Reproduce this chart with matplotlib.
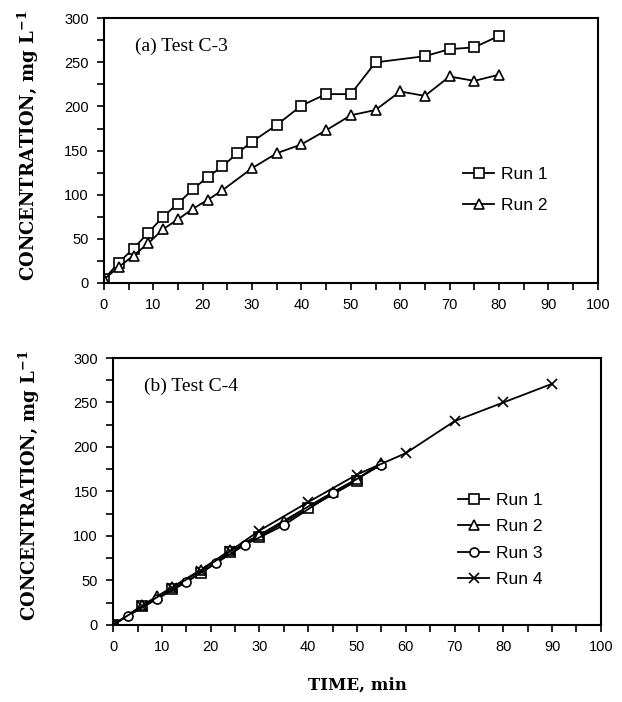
import numpy as np
import matplotlib
matplotlib.use('Agg')
import matplotlib.pyplot as plt
from matplotlib.ticker import MultipleLocator
#
#----- data, test C-3
t_a1 = [0, 3, 6, 9, 12, 15, 18, 21, 24, 27, 30, 35, 40, 45, 50, 55, 65, 70, 75, 80]
c_a1 = [4, 23, 39, 57, 75, 90, 106, 120, 132, 147, 160, 179, 201, 214, 214, 250, 257, 265, 267, 280]
t_a2 = [0, 3, 6, 9, 12, 15, 18, 21, 24, 30, 35, 40, 45, 50, 55, 60, 65, 70, 75, 80]
c_a2 = [4, 18, 31, 45, 61, 72, 84, 94, 105, 130, 147, 157, 173, 190, 196, 217, 212, 234, 229, 236]
#----- data, test C-4
t_b1 = [0, 6, 12, 18, 24, 30, 40, 50]
c_b1 = [0, 21, 40, 58, 82, 99, 131, 162]
t_b2 = [0, 6, 9, 12, 18, 24, 30, 35, 45, 50, 55]
c_b2 = [0, 22, 32, 42, 62, 84, 101, 117, 149, 164, 182]
t_b3 = [0, 3, 9, 15, 21, 27, 35, 45, 55]
c_b3 = [0, 10, 29, 48, 69, 90, 112, 148, 180]
t_b4 = [0, 6, 12, 18, 24, 30, 40, 50, 60, 70, 80, 90]
c_b4 = [0, 21, 41, 61, 83, 106, 138, 169, 193, 229, 250, 271]
#
xticks = np.arange(0, 101, 10)
yticks = np.arange(0, 301, 50)
ylab = 'CONCENTRATION, mg L$^{\\mathbf{-1}}$'
#
plt.rcParams['font.family'] = ['Liberation Sans', 'DejaVu Sans']
plt.rcParams['mathtext.fontset'] = 'dejavuserif'
#
fig = plt.figure(figsize=(6.22, 7.02), dpi=100)
ax1 = fig.add_axes([0.167, 0.597, 0.794, 0.377])
ax2 = fig.add_axes([0.182, 0.110, 0.784, 0.380])
#
mk = dict(color='k', lw=1.3, mfc='white', mec='k', mew=1.2)
ax1.plot(t_a1, c_a1, marker='s', ms=6.5, label='Run 1', **mk)
ax1.plot(t_a2, c_a2, marker='^', ms=6.5, label='Run 2', **mk)
#
ax2.plot(t_b1, c_b1, marker='s', ms=6.5, label='Run 1', **mk)
ax2.plot(t_b2, c_b2, marker='^', ms=6.5, label='Run 2', **mk)
ax2.plot(t_b3, c_b3, marker='o', ms=6.5, label='Run 3', **mk)
ax2.plot(t_b4, c_b4, marker='x', ms=6.5, label='Run 4', **mk)
#
for ax, title, leg_y, lsp in [(ax1, '(a) Test C-3', 0.351, 0.95),
                              (ax2, '(b) Test C-4', 0.318, 0.65)]:
    ax.set_xlim(0, 100)
    ax.set_ylim(0, 300)
    ax.set_xticks(xticks)
    ax.set_yticks(yticks)
    ax.xaxis.set_minor_locator(MultipleLocator(5))
    ax.yaxis.set_minor_locator(MultipleLocator(25))
    ax.tick_params(which='both', direction='out', width=1.2, labelsize=10.5, pad=6)
    ax.tick_params(which='major', length=5)
    ax.tick_params(which='minor', length=5)
    for s in ax.spines.values():
        s.set_linewidth(1.5)
    ax.set_ylabel(ylab, fontsize=13, fontweight='bold', family='DejaVu Serif')
    ax.yaxis.set_label_coords(-0.128 if ax is ax1 else -0.145, 0.52)
    ax.text(0.063, 0.895, title, transform=ax.transAxes, fontsize=14,
            family='Liberation Serif', va='center')
    ax.legend(loc='center left', bbox_to_anchor=(0.727 if ax is ax1 else 0.707, leg_y),
              frameon=False, fontsize=12.5, handlelength=1.8, handletextpad=0.4,
              labelspacing=lsp, borderpad=0, borderaxespad=0)
#
ax2.set_xlabel('TIME, min', fontsize=12, fontweight='bold', family='DejaVu Serif',
               labelpad=16)
#
plt.savefig('out.png', dpi=100)
